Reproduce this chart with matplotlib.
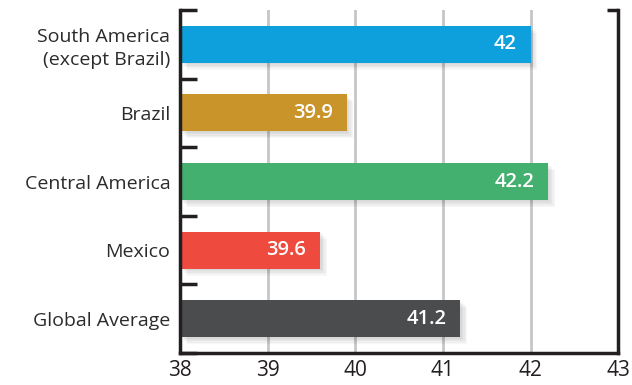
import matplotlib.pyplot as plt
import matplotlib.patheffects as pe
from matplotlib.ticker import FixedLocator

plt.rcParams['font.family'] = ['Open Sans', 'DejaVu Sans']

regions = ["South America\n(except Brazil)", "Brazil", "Central America", "Mexico", "Global Average"]
values = [42, 39.9, 42.2, 39.6, 41.2]
colors = ["#0ea0dc", "#c9952b", "#44b06f", "#ef4a3e", "#4b4c4e"]
xticks = [38, 39, 40, 41, 42, 43]

fig = plt.figure(figsize=(6.32, 3.85), dpi=100)
ax = fig.add_axes([0.285, 0.083, 0.693, 0.891])

ypos = list(range(len(regions)))[::-1]
ax.set_xlim(38, 43)
ax.set_ylim(-0.5, len(regions) - 0.5)

for x in xticks[1:-1]:
    ax.axvline(x, color="#c6c6c8", lw=2, zorder=0)

# soft drop shadow built from a few faint offset copies
shadow = [pe.SimplePatchShadow(offset=(d, -d), shadow_rgbFace="#000000", alpha=0.03)
          for d in (1, 2, 3, 4, 5)] + [pe.Normal()]
bars = ax.barh(ypos, [v - 38 for v in values], left=38, height=0.54,
               color=colors, zorder=2)
for b in bars:
    b.set_path_effects(shadow)

for y, v in zip(ypos, values):
    ax.text(v - 0.16, y, f"{v:g}", ha="right", va="center", color="white",
            fontsize=14.5, fontweight="semibold", zorder=3)

ax.set_yticks(ypos)
ax.set_yticklabels(regions, fontsize=14, color="#2b2b2b", linespacing=1.3)
ax.yaxis.set_minor_locator(FixedLocator([i - 0.5 for i in range(len(regions) + 1)]))
ax.tick_params(axis="y", which="major", length=0, pad=7)
ax.tick_params(axis="y", which="minor", direction="in", length=12, width=2.5, color="#231f20")

ax.set_xticks(xticks)
ax.set_xticklabels([str(x) for x in xticks], fontsize=15, color="#231f20")
ax.tick_params(axis="x", length=0, pad=5)

for side in ["left", "bottom", "right"]:
    ax.spines[side].set_linewidth(2.5)
    ax.spines[side].set_color("#231f20")
ax.spines["top"].set_visible(False)

# small cap on top of the right spine
ax.plot([0.975, 1.0], [1.0, 1.0], transform=ax.transAxes, color="#231f20",
        lw=2.5, clip_on=False, solid_capstyle="butt")

fig.savefig("out.png", dpi=100)
